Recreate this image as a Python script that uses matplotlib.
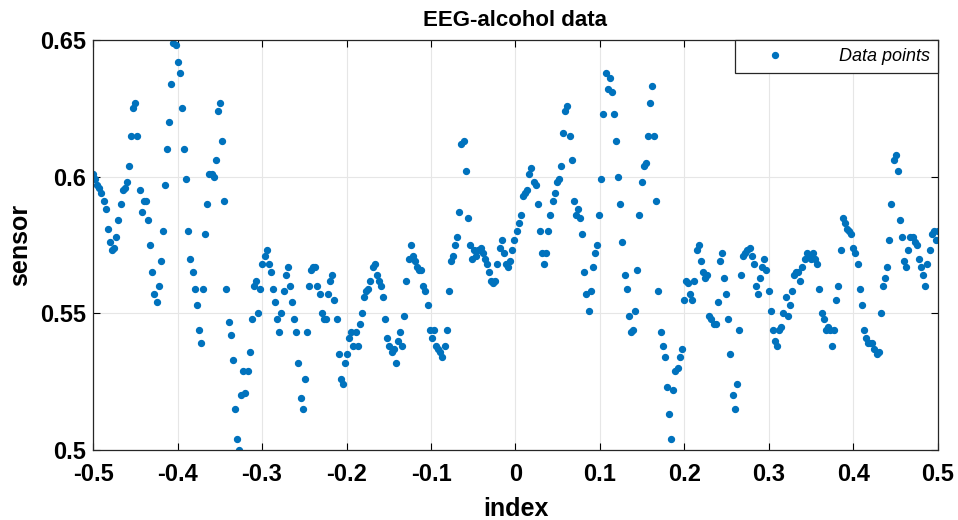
import matplotlib
matplotlib.use("Agg")
import matplotlib.pyplot as plt
import numpy as np

# sensor values, equally spaced over the index axis
sensor = [
    0.601, 0.599, 0.597, 0.596, 0.594, 0.591, 0.588, 0.581, 0.576, 0.573,
    0.574, 0.578, 0.584, 0.590, 0.595, 0.596, 0.598, 0.604, 0.615, 0.625,
    0.627, 0.615, 0.595, 0.587, 0.591, 0.591, 0.584, 0.575, 0.565, 0.557,
    0.554, 0.560, 0.569, 0.580, 0.597, 0.610, 0.620, 0.634, 0.649, 0.648,
    0.642, 0.638, 0.625, 0.610, 0.599, 0.580, 0.570, 0.565, 0.559, 0.553,
    0.544, 0.539, 0.559, 0.579, 0.590, 0.601, 0.601, 0.600, 0.606, 0.624,
    0.627, 0.613, 0.591, 0.559, 0.547, 0.542, 0.533, 0.515, 0.504, 0.500,
    0.520, 0.529, 0.521, 0.529, 0.536, 0.548, 0.560, 0.562, 0.550, 0.559,
    0.568, 0.571, 0.573, 0.568, 0.565, 0.559, 0.554, 0.548, 0.543, 0.550,
    0.558, 0.564, 0.567, 0.560, 0.554, 0.548, 0.543, 0.532, 0.519, 0.515,
    0.526, 0.543, 0.560, 0.566, 0.567, 0.567, 0.560, 0.557, 0.550, 0.548,
    0.548, 0.557, 0.562, 0.564, 0.555, 0.548, 0.535, 0.526, 0.524, 0.532,
    0.535, 0.541, 0.543, 0.538, 0.543, 0.538, 0.546, 0.550, 0.556, 0.558,
    0.559, 0.562, 0.567, 0.568, 0.564, 0.562, 0.560, 0.556, 0.548, 0.541,
    0.538, 0.536, 0.537, 0.532, 0.540, 0.543, 0.538, 0.549, 0.562, 0.570,
    0.575, 0.571, 0.569, 0.567, 0.566, 0.566, 0.560, 0.558, 0.553, 0.544,
    0.541, 0.544, 0.538, 0.537, 0.536, 0.534, 0.538, 0.544, 0.558, 0.569,
    0.571, 0.575, 0.578, 0.587, 0.612, 0.613, 0.602, 0.585, 0.575, 0.570,
    0.573, 0.571, 0.573, 0.574, 0.572, 0.570, 0.568, 0.565, 0.562, 0.561,
    0.562, 0.568, 0.574, 0.577, 0.572, 0.568, 0.567, 0.569, 0.573, 0.577,
    0.580, 0.583, 0.586, 0.593, 0.594, 0.595, 0.601, 0.603, 0.598, 0.597,
    0.590, 0.580, 0.572, 0.568, 0.572, 0.580, 0.586, 0.591, 0.594, 0.598,
    0.599, 0.604, 0.616, 0.624, 0.626, 0.615, 0.606, 0.591, 0.586, 0.588,
    0.585, 0.579, 0.565, 0.557, 0.551, 0.558, 0.567, 0.572, 0.575, 0.586,
    0.599, 0.623, 0.638, 0.632, 0.636, 0.631, 0.623, 0.613, 0.600, 0.590,
    0.576, 0.564, 0.559, 0.549, 0.543, 0.544, 0.551, 0.566, 0.586, 0.598,
    0.604, 0.605, 0.615, 0.627, 0.633, 0.615, 0.591, 0.558, 0.543, 0.538,
    0.534, 0.523, 0.513, 0.504, 0.522, 0.529, 0.530, 0.534, 0.537, 0.555,
    0.562, 0.561, 0.557, 0.555, 0.562, 0.573, 0.575, 0.569, 0.565, 0.563,
    0.564, 0.549, 0.548, 0.546, 0.546, 0.554, 0.569, 0.572, 0.563, 0.557,
    0.548, 0.535, 0.520, 0.515, 0.524, 0.544, 0.564, 0.571, 0.572, 0.573,
    0.574, 0.571, 0.568, 0.560, 0.557, 0.563, 0.567, 0.570, 0.566, 0.558,
    0.551, 0.544, 0.540, 0.538, 0.544, 0.545, 0.550, 0.556, 0.549, 0.553,
    0.558, 0.564, 0.565, 0.565, 0.562, 0.567, 0.570, 0.572, 0.571, 0.570,
    0.572, 0.570, 0.568, 0.559, 0.550, 0.548, 0.544, 0.545, 0.544, 0.538,
    0.544, 0.555, 0.560, 0.573, 0.585, 0.583, 0.581, 0.580, 0.579, 0.574,
    0.572, 0.568, 0.559, 0.553, 0.544, 0.541, 0.539, 0.539, 0.539, 0.537,
    0.535, 0.536, 0.550, 0.560, 0.563, 0.567, 0.577, 0.590, 0.606, 0.608,
    0.602, 0.584, 0.578, 0.569, 0.567, 0.573, 0.578, 0.578, 0.576, 0.575,
    0.570, 0.567, 0.564, 0.560, 0.568, 0.573, 0.579, 0.580, 0.577, 0.580,
]
index = np.linspace(-0.5, 0.5, len(sensor))

xticks = [-0.5, -0.4, -0.3, -0.2, -0.1, 0, 0.1, 0.2, 0.3, 0.4, 0.5]
xlabels = ['-0.5', '-0.4', '-0.3', '-0.2', '-0.1', '0', '0.1', '0.2', '0.3', '0.4', '0.5']
yticks = [0.5, 0.55, 0.6, 0.65]
ylabels = ['0.5', '0.55', '0.6', '0.65']

narrow = ['Liberation Sans Narrow', 'Liberation Sans', 'DejaVu Sans']

fig = plt.figure(figsize=(9.58, 5.2), dpi=100)
ax = fig.add_axes([0.0971, 0.1346, 0.882, 0.7885])

ax.plot(index, sensor, '.', color='#0072BD', markersize=8.5, label='Data points')

ax.set_xlim(-0.5, 0.5)
ax.set_ylim(0.5, 0.65)
ax.set_xticks(xticks)
ax.set_xticklabels(xlabels, family=narrow, fontweight='bold', fontsize=17)
ax.set_yticks(yticks)
ax.set_yticklabels(ylabels, family=narrow, fontweight='bold', fontsize=17)
ax.tick_params(axis='x', pad=9)
ax.tick_params(axis='y', pad=5)
ax.tick_params(direction='in', top=True, right=True, length=5, width=0.8)

ax.grid(True, color='#e6e6e6', linewidth=0.8)
ax.set_axisbelow(True)
for s in ax.spines.values():
    s.set_color('#262626')
    s.set_linewidth(0.9)

ax.set_title('EEG-alcohol data', family=narrow, fontweight='bold', fontsize=16, pad=10)
ax.set_xlabel('index', family=narrow, fontweight='bold', fontsize=18, labelpad=8)
ax.set_ylabel('sensor', family=narrow, fontweight='bold', fontsize=18, labelpad=6)

leg = ax.legend(loc='upper right', borderaxespad=0, fancybox=False, framealpha=1,
                edgecolor='#262626', handlelength=3.5, handletextpad=1.8,
                borderpad=0.45, prop={'family': 'Liberation Sans', 'style': 'italic', 'size': 13})
leg.get_frame().set_linewidth(0.9)

plt.savefig('out.png', dpi=100)
